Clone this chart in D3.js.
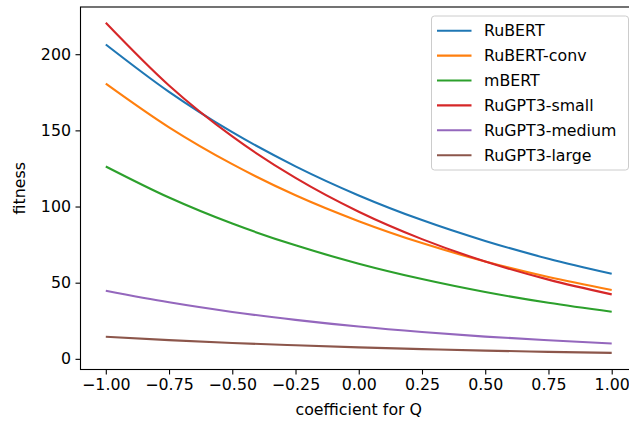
<!DOCTYPE html>
<html>
<head>
<meta charset="utf-8">
<script src="https://cdn.jsdelivr.net/npm/d3@7"></script>
<style>
  html, body { margin: 0; padding: 0; background: #fff; }
  svg { display: block; }
  text { font-family: "DejaVu Sans", sans-serif; fill: #000; }
</style>
</head>
<body>
<svg id="chart" width="629" height="424"></svg>
<script>
// ---- data ----
const xValues = [-1.00, -0.75, -0.50, -0.25, 0.00, 0.25, 0.50, 0.75, 1.00];
const seriesNames = ["RuBERT", "RuBERT-conv", "mBERT", "RuGPT3-small", "RuGPT3-medium", "RuGPT3-large"];
const rubert       = [206.4, 175.3, 148.8, 126.4, 107.3, 91.1, 77.4, 65.7, 55.8];
const rubertConv   = [180.7, 152.0, 127.8, 107.4, 90.4, 76.0, 63.9, 53.7, 45.2];
const mbert        = [126.3, 105.9, 88.8, 74.5, 62.5, 52.4, 43.9, 36.8, 30.9];
const rugpt3Small  = [220.7, 179.5, 146.0, 118.8, 96.6, 78.6, 63.9, 52.0, 42.3];
const rugpt3Medium = [44.7, 37.1, 30.8, 25.6, 21.2, 17.6, 14.6, 12.2, 10.1];
const rugpt3Large  = [14.5, 12.3, 10.4, 8.9, 7.5, 6.4, 5.4, 4.6, 3.9];
const xTicks = [-1.00, -0.75, -0.50, -0.25, 0.00, 0.25, 0.50, 0.75, 1.00];
const yTicks = [0, 50, 100, 150, 200];
const colors = ["#1f77b4", "#ff7f0e", "#2ca02c", "#d62728", "#9467bd", "#8c564b"];
const xLabel = "coefficient for Q";
const yLabel = "fitness";

const allSeries = [rubert, rubertConv, mbert, rugpt3Small, rugpt3Medium, rugpt3Large];

(function () {
// ---- layout ----
const FS = 15.8;
const pLeft = 80.5, pRight = 637, pTop = 7, pBottom = 369.5;
const svg = d3.select("#chart");

const x = d3.scaleLinear().domain([-1.1, 1.1]).range([pLeft, pRight]);
const y = d3.scaleLinear().domain([-7, 231]).range([pBottom, pTop]);

// lines
const line = d3.line()
  .x((d, i) => x(xValues[i]))
  .y(d => y(d))
  .curve(d3.curveMonotoneX);

const plot = svg.append("g");
allSeries.forEach((s, i) => {
  plot.append("path")
    .datum(s)
    .attr("d", line)
    .attr("fill", "none")
    .attr("stroke", colors[i])
    .attr("stroke-width", 2.1);
});

// axes
const xAxis = d3.axisBottom(x).tickValues(xTicks).tickFormat(d3.format(".2f")).tickSizeOuter(0).tickSize(5).tickPadding(4.5);
const yAxis = d3.axisLeft(y).tickValues(yTicks).tickFormat(d3.format("d")).tickSizeOuter(0).tickSize(5).tickPadding(4.5);

const gx = svg.append("g").attr("transform", `translate(0,${pBottom})`).call(xAxis);
const gy = svg.append("g").attr("transform", `translate(${pLeft},0)`).call(yAxis);
[gx, gy].forEach(g => {
  g.select(".domain").remove();
  g.selectAll(".tick line").attr("stroke", "#000").attr("stroke-width", 1.1);
  g.selectAll(".tick text").attr("font-size", FS).attr("font-family", "DejaVu Sans").attr("fill", "#000");
});

// spines
svg.append("rect")
  .attr("x", pLeft).attr("y", pTop)
  .attr("width", pRight - pLeft).attr("height", pBottom - pTop)
  .attr("fill", "none").attr("stroke", "#000").attr("stroke-width", 1.1);

// axis labels
svg.append("text")
  .attr("x", (pLeft + pRight) / 2).attr("y", 415)
  .attr("text-anchor", "middle").attr("font-size", FS)
  .text(xLabel);
svg.append("text")
  .attr("transform", `translate(25,${(pTop + pBottom) / 2}) rotate(-90)`)
  .attr("text-anchor", "middle").attr("font-size", FS)
  .text(yLabel);

// legend
const lg = svg.append("g");
const lgLeft = 431.5, lgTop = 16, lgRight = 628.5, lgBottom = 170;
lg.append("rect")
  .attr("x", lgLeft).attr("y", lgTop)
  .attr("width", lgRight - lgLeft).attr("height", lgBottom - lgTop)
  .attr("rx", 3).attr("ry", 3)
  .attr("fill", "#fff").attr("fill-opacity", 0.8)
  .attr("stroke", "#cccccc").attr("stroke-width", 1);
const rowH = 24.9, row0 = 30.7;
seriesNames.forEach((name, i) => {
  const cy = row0 + i * rowH;
  lg.append("line")
    .attr("x1", 437).attr("x2", 471.5)
    .attr("y1", cy).attr("y2", cy)
    .attr("stroke", colors[i]).attr("stroke-width", 2.1);
  lg.append("text")
    .attr("x", 484).attr("y", cy)
    .attr("dy", "0.36em")
    .attr("font-size", FS)
    .text(name);
});
})();
</script>
</body>
</html>
